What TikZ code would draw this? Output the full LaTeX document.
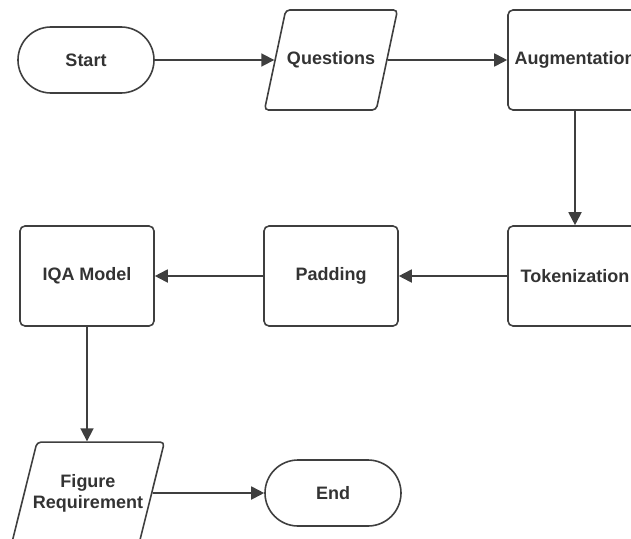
\documentclass[tikz,border=0pt]{standalone}
\usepackage{fontspec}
\setmainfont{Liberation Sans}
\usetikzlibrary{arrows.meta,shapes.geometric,shapes.misc}
\definecolor{linegray}{HTML}{3F3F3F}
\definecolor{txtgray}{HTML}{333333}

\begin{document}
\begin{tikzpicture}[x=1pt,y=-1pt,>={Triangle[length=13pt,width=13pt]},
    every node/.style={font=\fontsize{18}{21}\selectfont\bfseries,text=txtgray,align=center},
    terminal/.style={draw=linegray,line width=1.6pt,rounded rectangle,minimum width=136pt,minimum height=66pt,inner sep=0pt},
    process/.style={draw=linegray,line width=1.6pt,rectangle,rounded corners=5pt,minimum width=134pt,minimum height=100pt,inner sep=0pt},
    io/.style={draw=linegray,line width=1.6pt,trapezium,trapezium stretches body,trapezium left angle=78,trapezium right angle=102,rounded corners=4pt,minimum width=133pt,inner xsep=0pt},
    flow/.style={->,draw=linegray,line width=1.8pt}]

    \useasboundingbox (0,0) rectangle (631,538);
    \clip (0,0) rectangle (631,538);

    % first row
    \node[terminal] (start) at (86,60) {Start};
    \node[io,text height=12pt,text depth=4pt,inner ysep=42pt] (questions) at (331,60) {Questions};
    \node[process] (augment) at (575,60) {Augmentation};

    % second row
    \node[process] (token) at (575,276) {Tokenization};
    \node[process] (padding) at (331,276) {Padding};
    \node[process] (iqa) at (87,276) {IQA Model};

    % third row
    \node[io,trapezium left angle=76,trapezium right angle=104,minimum width=152pt,inner xsep=-4pt,inner ysep=32pt] (figreq) at (88,493) {Figure\\Requirement};
    \node[terminal] (end) at (333,493) {End};

    \draw[flow] (start) -- (questions);
    \draw[flow] (questions) -- (augment);
    \draw[flow] (augment) -- (token);
    \draw[flow] (token) -- (padding);
    \draw[flow] (padding) -- (iqa);
    \draw[flow] (iqa) -- (iqa |- figreq.north);
    \draw[flow] (figreq) -- (end);

\end{tikzpicture}
\end{document}
